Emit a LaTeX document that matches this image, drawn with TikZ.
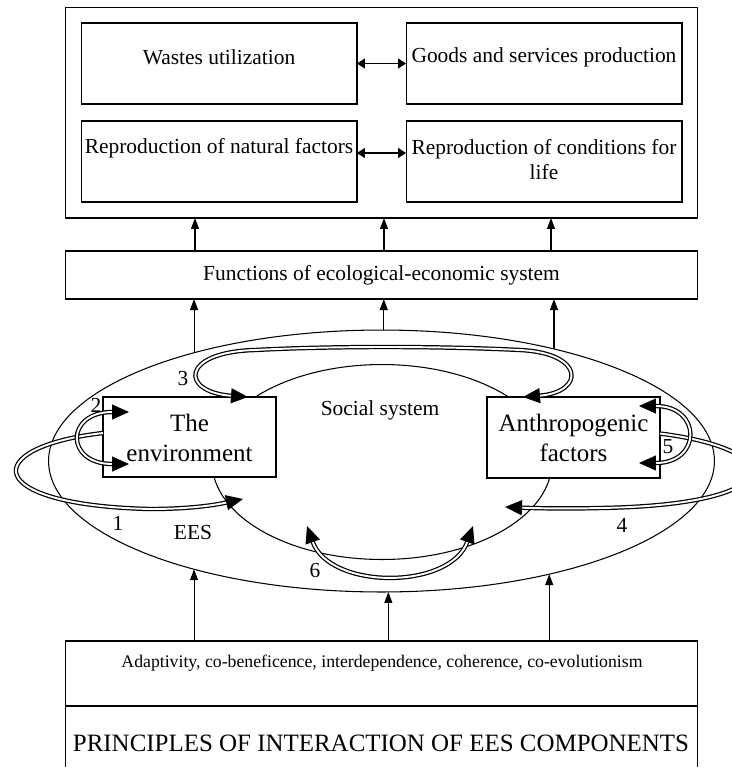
\documentclass[tikz,border=0pt]{standalone}
\usepackage{fontspec}
\setmainfont{Liberation Serif}
\usetikzlibrary{arrows.meta,shapes.geometric,positioning}

\tikzset{
  box/.style={draw, line width=0.6pt, fill=white, inner sep=0pt, outer sep=0pt},
  txt/.style={inner sep=0pt, align=center, font=\fontsize{12.2}{14.2}\selectfont},
  bigtxt/.style={inner sep=0pt, align=center, font=\fontsize{14.2}{17}\selectfont},
  num/.style={inner sep=0pt, font=\fontsize{12.2}{14}\selectfont},
  arr/.style={line width=0.6pt, -{Triangle[length=0.22cm,width=0.16cm]}},
  twoway/.style={line width=0.7pt, {Triangle[length=0.16cm,width=0.2cm]}-{Triangle[length=0.16cm,width=0.2cm]}},
  dbl/.style={double, double distance=1.1pt, line width=0.7pt},
  bighead/.style={-{Triangle[length=0.34cm,width=0.3cm]}},
  bigheads/.style={{Triangle[length=0.34cm,width=0.3cm]}-{Triangle[length=0.34cm,width=0.3cm]}}
}

\begin{document}
\begin{tikzpicture}[x=0.02cm,y=-0.02cm]
\useasboundingbox (0,0) rectangle (732,769);

% functions of the system
\node[box, minimum width=12.66cm, minimum height=4.22cm] (outer) at (381.5,112.5) {};
\node[box, minimum width=5.52cm, minimum height=1.62cm] (wastes) at (219,63.5) {};
\node[box, minimum width=5.52cm, minimum height=1.62cm] (goods) at (544,63.5) {};
\node[box, minimum width=5.52cm, minimum height=1.62cm] (natural) at (219,161.5) {};
\node[box, minimum width=5.52cm, minimum height=1.62cm] (life) at (544,161.5) {};
\node[txt] (twastes) at (219,57) {Wastes utilization};
\node[txt] (tgoods) at (544,57) {Goods and services production};
\node[txt] (tnatural) at (219,148) {Reproduction of natural factors};
\node[txt] (tlife) at (544,160) {Reproduction of conditions for\\life};
\draw[twoway] (wastes.east) -- (goods.west);
\draw[twoway] ([yshift=0.17cm]natural.east) -- ([yshift=0.17cm]life.west);

\node[box, minimum width=12.66cm, minimum height=0.96cm] (func) at (381.5,275) {};
\node[txt] (tfunc) at (381.5,275) {Functions of ecological-economic system};

\coordinate (c1) at (195,0);
\coordinate (c2) at (384,0);
\coordinate (c3) at (551,0);
\draw[arr] (func.north -| c1) -- (outer.south -| c1);
\draw[arr] (func.north -| c2) -- (outer.south -| c2);
\draw[arr] (func.north -| c3) -- (outer.south -| c3);

% EES and social system
\node[draw, ellipse, line width=0.6pt, inner sep=0pt, outer sep=0pt,
  minimum width=13.32cm, minimum height=5.24cm] (ees) at (381.5,461) {};
\node[draw, ellipse, line width=0.6pt, inner sep=0pt, outer sep=0pt,
  minimum width=6.8cm, minimum height=3.9cm] (soc) at (382,462) {};

\draw[arr] (ees.150) -- (ees.150 |- func.south);
\draw[arr] (ees.89) -- (ees.89 |- func.south);
\draw[arr] (ees.33.6) -- (ees.33.6 |- func.south);

\node[box, minimum width=3.46cm, minimum height=1.6cm] (env) at (189.5,437) {};
\node[box, minimum width=3.46cm, minimum height=1.62cm] (anthro) at (573.5,437.5) {};
\node[bigtxt] (tenv) at (189.5,438) {The\\environment};
\node[bigtxt] (tanthro) at (573.5,438) {Anthropogenic\\factors};
\node[num] (tsoc) at (380,410) {Social system};
\node[num] (tees) at (193,532) {EES};

% feedback loops
\coordinate (e1) at (243,499);
\coordinate (e2a) at (129,412);
\coordinate (e2b) at (129,464);
\coordinate (e4) at (505,507);
\coordinate (e5a) at (639,406);
\coordinate (e5b) at (639,463);
\coordinate (e6a) at (307,526);
\coordinate (e6b) at (473,526);

\draw[dbl, bighead] ([yshift=0.08cm]env.west) .. controls (-20,447) and (-20,505) .. (150,509)
  .. controls (190,509) and (215,505) .. (e1);
\draw[dbl, bigheads] (e2a) .. controls (65,412) and (65,464) .. (e2b);
\draw[dbl, bigheads] ([xshift=1.17cm]env.north) .. controls (180,392) and (180,352) .. (255,350)
  .. controls (330,346) and (440,346) .. (520,350)
  .. controls (585,353) and (585,392) .. ([xshift=-1.01cm]anthro.north);
\draw[dbl, bighead] ([yshift=0.08cm]anthro.east) .. controls (790,450) and (790,505) .. (600,508)
  .. controls (560,509) and (530,508) .. (e4);
\draw[dbl, bigheads] (e5a) .. controls (702,406) and (702,463) .. (e5b);
\draw[dbl, bigheads] (e6a) .. controls (330,590) and (450,590) .. (e6b);

\node[num] (n1) at (118,523) {1};
\node[num] (n2) at (96,405) {2};
\node[num] (n3) at (183,378) {3};
\node[num] (n4) at (622,525) {4};
\node[num] (n5) at (668,447) {5};
\node[num] (n6) at (315,570) {6};

% principles
\node[box, minimum width=12.66cm, minimum height=1.3cm] (prin) at (381.5,673.5) {};
\node[inner sep=0pt, font=\fontsize{10.1}{12}\selectfont] (tprin) at (382,663)
  {Adaptivity, co-beneficence, interdependence, coherence, co-evolutionism};
\draw[line width=0.6pt] (prin.south west) -- ++(0,61);
\draw[line width=0.6pt] (prin.south east) -- ++(0,61);
\node[inner sep=0pt, font=\fontsize{14.2}{17}\selectfont] (tmain) at (381,743)
  {PRINCIPLES OF INTERACTION OF EES COMPONENTS};

\draw[arr] (prin.north -| ees.210) -- (ees.210);
\draw[arr] (prin.north -| ees.273.3) -- (ees.273.3);
\draw[arr] (prin.north -| ees.326.4) -- (ees.326.4);
\end{tikzpicture}
\end{document}
